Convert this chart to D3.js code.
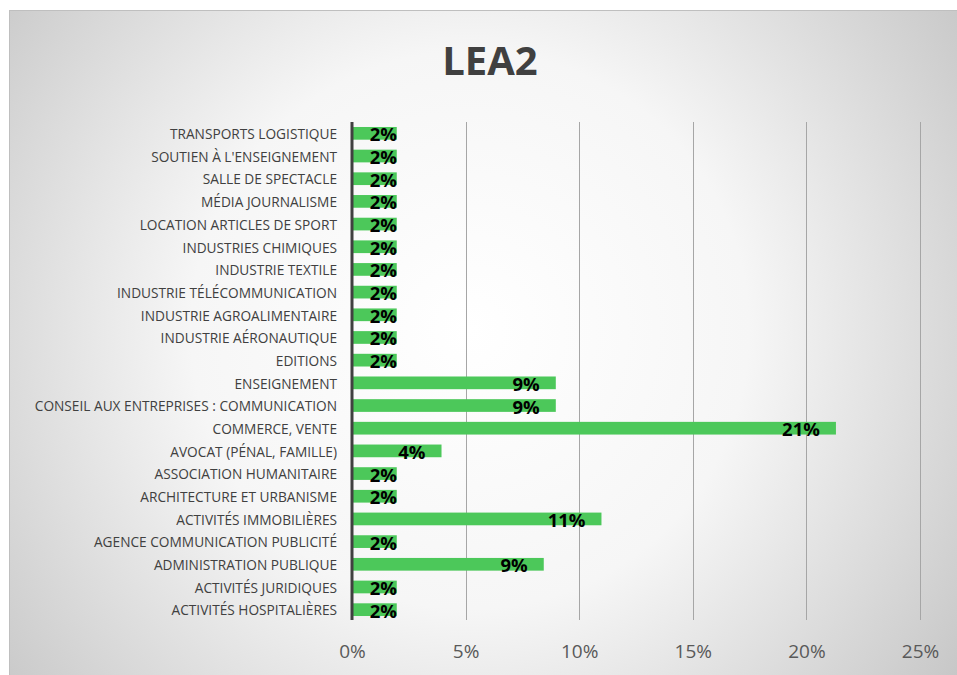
<!DOCTYPE html>
<html>
<head>
<meta charset="utf-8">
<script src="https://cdn.jsdelivr.net/npm/d3@7"></script>
<style>
  body { margin: 0; background: #fff; }
  svg { display: block; }
</style>
</head>
<body>
<script>
var width = 957,
    height = 675;

// categories from top to bottom
var categories = [
  "TRANSPORTS LOGISTIQUE",
  "SOUTIEN À L'ENSEIGNEMENT",
  "SALLE DE SPECTACLE",
  "MÉDIA JOURNALISME",
  "LOCATION ARTICLES DE SPORT",
  "INDUSTRIES CHIMIQUES",
  "INDUSTRIE TEXTILE",
  "INDUSTRIE TÉLÉCOMMUNICATION",
  "INDUSTRIE AGROALIMENTAIRE",
  "INDUSTRIE AÉRONAUTIQUE",
  "EDITIONS",
  "ENSEIGNEMENT",
  "CONSEIL AUX ENTREPRISES : COMMUNICATION",
  "COMMERCE, VENTE",
  "AVOCAT (PÉNAL, FAMILLE)",
  "ASSOCIATION HUMANITAIRE",
  "ARCHITECTURE ET URBANISME",
  "ACTIVITÉS IMMOBILIÈRES",
  "AGENCE COMMUNICATION PUBLICITÉ",
  "ADMINISTRATION PUBLIQUE",
  "ACTIVITÉS JURIDIQUES",
  "ACTIVITÉS HOSPITALIÈRES"
];

var values = [
  0.0197, 0.0197, 0.0197, 0.0197, 0.0197, 0.0197, 0.0197, 0.0197, 0.0197, 0.0197, 0.0197,
  0.0897, 0.0897, 0.213, 0.0394, 0.0197, 0.0197, 0.1098, 0.0197, 0.0844, 0.0197, 0.0197
];

var valueLabels = [
  "2%", "2%", "2%", "2%", "2%", "2%", "2%", "2%", "2%", "2%", "2%",
  "9%", "9%", "21%", "4%", "2%", "2%", "11%", "2%", "9%", "2%", "2%"
];

var tickValues = [0, 0.05, 0.10, 0.15, 0.20, 0.25];

var svg = d3.select("body").append("svg")
    .attr("width", width)
    .attr("height", height);

var defs = svg.append("defs");
var grad = defs.append("radialGradient")
    .attr("id", "bg")
    .attr("gradientUnits", "userSpaceOnUse")
    .attr("cx", 470).attr("cy", 330).attr("r", 620);
grad.append("stop").attr("offset", "0%").attr("stop-color", "#ffffff");
grad.append("stop").attr("offset", "45%").attr("stop-color", "#f6f6f6");
grad.append("stop").attr("offset", "100%").attr("stop-color", "#c4c4c4");

// chart area
svg.append("rect")
    .attr("x", 9.5).attr("y", 10.5)
    .attr("width", width + 10).attr("height", height + 10)
    .attr("fill", "url(#bg)")
    .attr("stroke", "#bfbfbf")
    .attr("stroke-width", 1);

var x = d3.scaleLinear()
    .domain([0, 0.25])
    .range([352, 920]);

var y = d3.scaleBand()
    .domain(categories)
    .range([122, 621])
    .paddingInner(0.44)
    .paddingOuter(0.22);

// title
svg.append("text")
    .attr("x", 490)
    .attr("y", 75)
    .attr("text-anchor", "middle")
    .style("font-family", "'Open Sans', sans-serif")
    .style("font-weight", "bold")
    .style("font-size", "40px")
    .style("fill", "#404040")
    .text("LEA2");

// gridlines
svg.append("g")
    .selectAll("line")
    .data(tickValues.slice(1))
    .join("line")
    .attr("x1", function(d) { return Math.round(x(d)) + 0.5; })
    .attr("x2", function(d) { return Math.round(x(d)) + 0.5; })
    .attr("y1", 122)
    .attr("y2", 620)
    .attr("stroke", "#a6a6a6")
    .attr("stroke-width", 1);

// bars
svg.append("g")
    .selectAll("rect")
    .data(values)
    .join("rect")
    .attr("x", x(0))
    .attr("y", function(d, i) { return y(categories[i]); })
    .attr("width", function(d) { return x(d) - x(0); })
    .attr("height", y.bandwidth())
    .attr("fill", "#4cc85a");

// value axis line (vertical)
svg.append("line")
    .attr("x1", x(0)).attr("x2", x(0))
    .attr("y1", 122).attr("y2", 620)
    .attr("stroke", "#404040")
    .attr("stroke-width", 3);

// category labels
var yAxis = svg.append("g")
    .attr("transform", "translate(337,0)")
    .call(d3.axisLeft(y).tickSize(0).tickPadding(0));
yAxis.select(".domain").remove();
yAxis.selectAll("text")
    .attr("dy", "0.42em")
    .style("font-family", "'Open Sans', sans-serif")
    .style("font-size", "13.7px")
    .style("fill", "#404040");

// x tick labels
var xAxis = svg.append("g")
    .attr("transform", "translate(0,640)")
    .call(d3.axisBottom(x).tickValues(tickValues).tickFormat(d3.format(".0%")).tickSize(0).tickPadding(0));
xAxis.select(".domain").remove();
xAxis.selectAll("text")
    .attr("dy", "0.95em")
    .style("font-family", "'Open Sans', sans-serif")
    .style("font-size", "19px")
    .style("fill", "#595959");

// data labels
svg.append("g")
    .selectAll("text")
    .data(values)
    .join("text")
    .attr("x", function(d) { return Math.max(x(d) - 16, x(0) + 45); })
    .attr("y", function(d, i) { return y(categories[i]) + y.bandwidth() / 2 + 8; })
    .attr("text-anchor", "end")
    .style("font-family", "'Open Sans', sans-serif")
    .style("font-weight", "bold")
    .style("font-size", "18.5px")
    .style("fill", "#000")
    .text(function(d, i) { return valueLabels[i]; });
</script>
</body>
</html>
